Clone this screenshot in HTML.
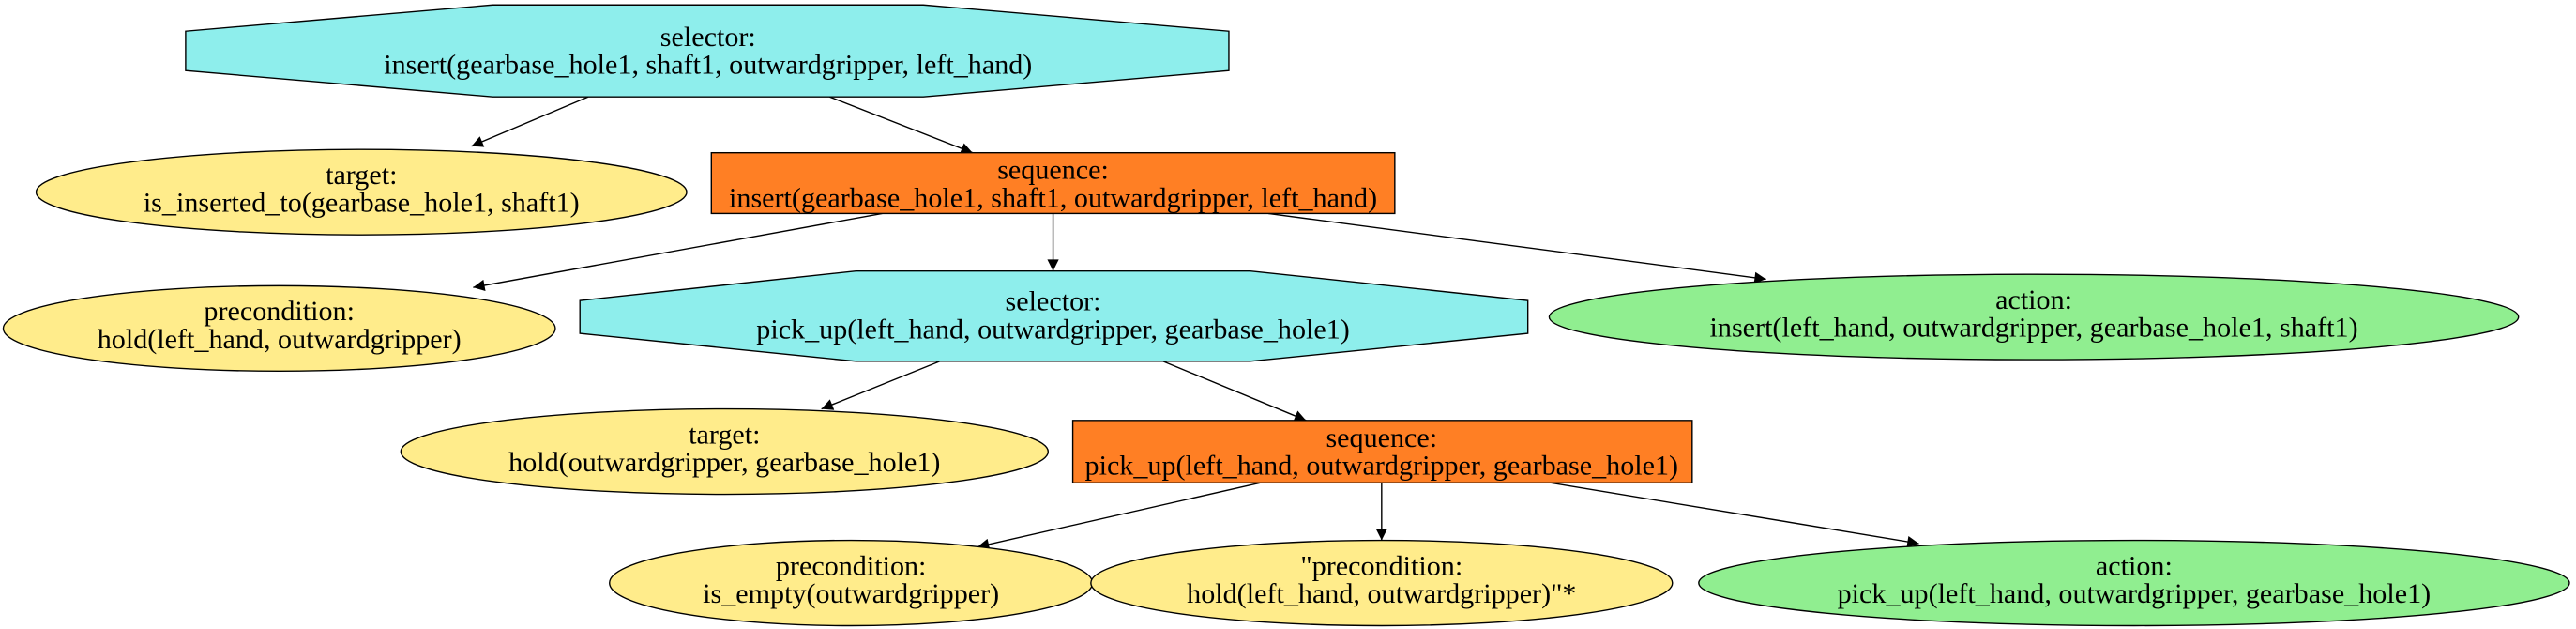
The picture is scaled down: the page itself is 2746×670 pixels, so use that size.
<!DOCTYPE html>
<html><head><meta charset="utf-8"><style>html,body{margin:0;padding:0;background:#fff}svg{display:block}</style></head>
<body>
<svg width="2746" height="670" viewBox="0 0 1568 383" preserveAspectRatio="none" xmlns="http://www.w3.org/2000/svg">
<defs><marker id="a" viewBox="0 0 10 10" refX="10" refY="5" markerWidth="9" markerHeight="7" markerUnits="userSpaceOnUse" orient="auto"><path d="M0,0L10,5L0,10z" fill="#000"/></marker></defs>
<g stroke="#000" stroke-width="0.8" fill="none" marker-end="url(#a)">
<line x1="358" y1="59" x2="287" y2="89"/>
<line x1="505" y1="59" x2="592" y2="93"/>
<line x1="537" y1="130" x2="288" y2="175"/>
<line x1="641" y1="130" x2="641" y2="165"/>
<line x1="772" y1="130" x2="1075" y2="170"/>
<line x1="572" y1="220" x2="500" y2="249"/>
<line x1="708" y1="220" x2="795" y2="256"/>
<line x1="767" y1="294" x2="595" y2="333"/>
<line x1="841" y1="294" x2="841" y2="329"/>
<line x1="944" y1="294" x2="1168" y2="331"/>
</g>
<g stroke="#000" stroke-width="0.8">
<polygon points="300,3 562,3 748,19 748,43 562,59 300,59 113,43 113,19" fill="#8eeeec"/>
<ellipse cx="220" cy="117" rx="198" ry="26" fill="#ffec8b"/>
<rect x="433" y="93" width="416" height="37" fill="#ff7f24"/>
<ellipse cx="170" cy="200" rx="168" ry="26" fill="#ffec8b"/>
<polygon points="521,165 761,165 930,183 930,203 761,220 521,220 353,203 353,183" fill="#8eeeec"/>
<ellipse cx="1238" cy="193" rx="295" ry="26" fill="#90ee90"/>
<ellipse cx="441" cy="275" rx="197" ry="26" fill="#ffec8b"/>
<rect x="653" y="256" width="377" height="38" fill="#ff7f24"/>
<ellipse cx="518" cy="355" rx="147" ry="26" fill="#ffec8b"/>
<ellipse cx="841" cy="355" rx="177" ry="26" fill="#ffec8b"/>
<ellipse cx="1299" cy="355" rx="265" ry="26" fill="#90ee90"/>
</g>
<g font-family="Liberation Serif, serif" font-size="17.2" text-anchor="middle" fill="#000">
<text x="431" y="28">selector:</text><text x="431" y="45">insert(gearbase_hole1, shaft1, outwardgripper, left_hand)</text>
<text x="220" y="112">target:</text><text x="220" y="129">is_inserted_to(gearbase_hole1, shaft1)</text>
<text x="641" y="109">sequence:</text><text x="641" y="126">insert(gearbase_hole1, shaft1, outwardgripper, left_hand)</text>
<text x="170" y="195">precondition:</text><text x="170" y="212">hold(left_hand, outwardgripper)</text>
<text x="641" y="189">selector:</text><text x="641" y="206">pick_up(left_hand, outwardgripper, gearbase_hole1)</text>
<text x="1238" y="188">action:</text><text x="1238" y="205">insert(left_hand, outwardgripper, gearbase_hole1, shaft1)</text>
<text x="441" y="270">target:</text><text x="441" y="287">hold(outwardgripper, gearbase_hole1)</text>
<text x="841" y="272">sequence:</text><text x="841" y="289">pick_up(left_hand, outwardgripper, gearbase_hole1)</text>
<text x="518" y="350">precondition:</text><text x="518" y="367">is_empty(outwardgripper)</text>
<text x="841" y="350">"precondition:</text><text x="841" y="367">hold(left_hand, outwardgripper)"*</text>
<text x="1299" y="350">action:</text><text x="1299" y="367">pick_up(left_hand, outwardgripper, gearbase_hole1)</text>
</g>
</svg>
</body></html>
